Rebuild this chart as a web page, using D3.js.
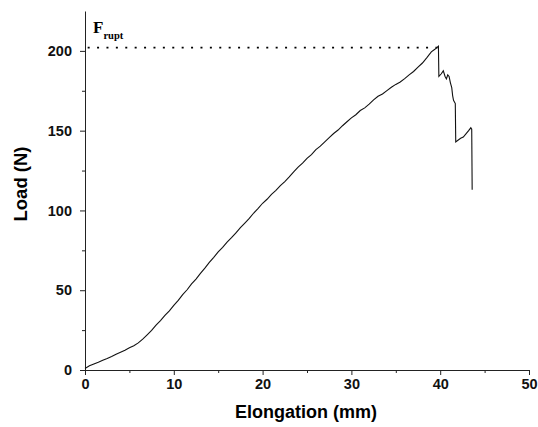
<!DOCTYPE html>
<html>
<head>
<meta charset="utf-8">
<script src="https://cdn.jsdelivr.net/npm/d3@7"></script>
<style>
  body { margin: 0; background: #fff; }
  svg { display: block; }
  .tick text { font-family: Arial, "Liberation Sans", sans-serif; font-weight: bold; font-size: 14.5px; fill: #111; }
  .axis path, .axis line { stroke: #222; }
</style>
</head>
<body>
<svg width="538" height="427"></svg>
<script>
// load-elongation curve
var elongation = [0, 0.5, 1, 1.5, 2, 2.5, 3, 3.5, 4, 4.5, 5, 5.5, 6, 6.5, 7, 7.5, 8, 8.5, 9, 9.5,
  10, 10.5, 11, 11.5, 12, 12.5, 13, 13.5, 14, 14.5, 15, 15.5, 16, 16.5, 17, 17.5, 18, 18.5, 19, 19.5,
  20, 20.5, 21, 21.5, 22, 22.5, 23, 23.5, 24, 24.5, 25, 25.5, 26, 26.5, 27, 27.5, 28, 28.5, 29, 29.5,
  30, 30.5, 31, 31.5, 32, 32.5, 33, 33.5, 34, 34.5, 35, 35.5, 36, 36.5, 37, 37.5, 38, 38.5, 39, 39.4, 39.8,
  39.85, 40.1, 40.35, 40.55, 40.7, 40.85, 41.0, 41.15, 41.3, 41.4, 41.5, 41.7,
  41.75, 42.0, 42.3, 42.6, 42.9, 43.2, 43.45, 43.55, 43.6];
var load = [1, 2.6, 3.7, 4.8, 6.1, 7.2, 8.5, 9.9, 11.2, 12.4, 14.0, 15.2, 17.0, 19.3, 22.0, 24.8, 28.1, 31.0, 34.2, 37.1,
  40.5, 43.6, 47.2, 50.3, 54.0, 57.0, 60.6, 63.8, 67.4, 70.6, 74.0, 76.8, 80.1, 82.9, 86.0, 89.2, 92.1, 95.0, 98.4, 101.3,
  104.5, 107.0, 110.1, 112.6, 115.6, 118.1, 121.0, 124.2, 127.1, 129.6, 132.6, 135.0, 138.1, 140.3, 143.0, 145.7, 148.2, 150.4, 153.1, 155.6,
  158.0, 160.0, 162.6, 164.3, 166.6, 169.3, 171.6, 173.0, 175.1, 177.2, 179.0, 180.5, 182.6, 185.0, 187.1, 189.8, 192.4, 195.8, 199.4, 201.0, 203.0,
  184.0, 185.5, 187.5, 184.0, 182.5, 185.0, 184.0, 180.0, 177.0, 172.0, 169.0, 167.0,
  143.0, 144.0, 145.2, 146.0, 148.0, 150.0, 151.8, 151.0, 113.0];

var xTicks = [0, 10, 20, 30, 40, 50];
var yTicks = [0, 50, 100, 150, 200];
var fRupt = 202;

var svg = d3.select("svg");
var mLeft = 85, mRight = 529, mTop = 11, mBottom = 370;

var x = d3.scaleLinear().domain([0, 50]).range([mLeft, mRight]);
var y = d3.scaleLinear().domain([0, 225]).range([mBottom, mTop]);

// minor ticks first, then major ones
var gx = svg.append("g").attr("class", "axis").attr("transform", "translate(0," + mBottom + ")");
gx.call(d3.axisBottom(x).tickValues([5, 15, 25, 35, 45]).tickSize(3).tickSizeOuter(0).tickFormat(""));
gx.append("g").call(d3.axisBottom(x).tickValues(xTicks).tickSize(5).tickPadding(4).tickFormat(d3.format("d")));
gx.selectAll("g g path.domain").remove();

var gy = svg.append("g").attr("class", "axis").attr("transform", "translate(" + mLeft + ",0)");
gy.call(d3.axisLeft(y).tickValues([25, 75, 125, 175]).tickSize(3).tickSizeOuter(0).tickFormat(""));
gy.append("g").call(d3.axisLeft(y).tickValues(yTicks).tickSize(5).tickPadding(8).tickFormat(d3.format("d")));
gy.selectAll("g g path.domain").remove();

// dotted line at rupture force
svg.append("line")
  .attr("x1", x(0.3)).attr("x2", x(39.7))
  .attr("y1", y(fRupt)).attr("y2", y(fRupt))
  .attr("stroke", "#000").attr("stroke-width", 1.8)
  .attr("stroke-dasharray", "2 7.4");

var pts = d3.zip(elongation, load);
svg.append("path")
  .datum(pts)
  .attr("fill", "none")
  .attr("stroke", "#111")
  .attr("stroke-width", 1.1)
  .attr("d", d3.line().x(function(d) { return x(d[0]); }).y(function(d) { return y(d[1]); }));

var lab = svg.append("text")
  .attr("x", 93).attr("y", 33)
  .attr("font-family", "'Liberation Serif', 'Times New Roman', serif")
  .attr("font-weight", "bold")
  .attr("font-size", 17);
lab.append("tspan").text("F");
lab.append("tspan").attr("font-size", 10.5).attr("dy", 5.5).text("rupt");

svg.append("text")
  .attr("x", 306).attr("y", 418)
  .attr("text-anchor", "middle")
  .attr("font-family", "Arial, 'Liberation Sans', sans-serif")
  .attr("font-weight", "bold").attr("font-size", 18)
  .text("Elongation (mm)");

svg.append("text")
  .attr("transform", "translate(27,184) rotate(-90)")
  .attr("text-anchor", "middle")
  .attr("font-family", "Arial, 'Liberation Sans', sans-serif")
  .attr("font-weight", "bold").attr("font-size", 18.5)
  .text("Load (N)");
</script>
</body>
</html>
